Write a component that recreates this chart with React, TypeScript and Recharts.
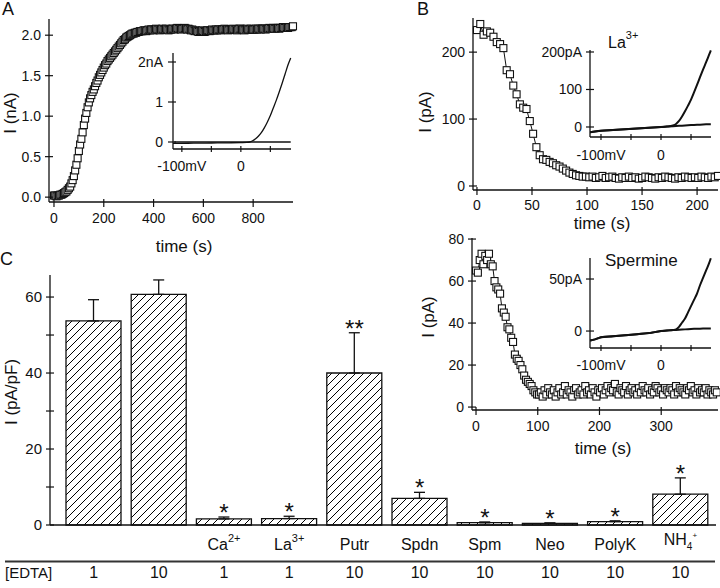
import React from 'react';
import { ComposedChart, Line, Bar, XAxis, YAxis, ErrorBar, LabelList } from 'recharts';

const FONT = '"Liberation Sans", Arial, Helvetica, sans-serif';
const INK = '#111';

// ---------------- Panel A: current vs time (nA), sampled every 5 s ----------------
const aStepS = 5;
const aCurrentNA = [
  0.02, 0.02, 0.01, 0.02, 0.02, 0.03, 0.03, 0.04, 0.05, 0.06, 0.07, 0.09,
  0.11, 0.13, 0.17, 0.21, 0.26, 0.33, 0.40, 0.48, 0.57, 0.65, 0.72, 0.80,
  0.89, 0.97, 1.04, 1.11, 1.17, 1.22, 1.26, 1.30, 1.33, 1.37, 1.41, 1.44,
  1.48, 1.51, 1.54, 1.57, 1.60, 1.63, 1.65, 1.68, 1.70, 1.72, 1.74, 1.76,
  1.78, 1.80, 1.82, 1.84, 1.86, 1.88, 1.90, 1.92, 1.94, 1.95, 1.97, 1.98,
  1.99, 2.00, 2.01, 2.02, 2.02, 2.03, 2.03, 2.04, 2.04, 2.05, 2.05, 2.05,
  2.06, 2.06, 2.05, 2.06, 2.07, 2.06, 2.07, 2.07, 2.06, 2.07, 2.08, 2.07,
  2.07, 2.06, 2.07, 2.08, 2.07, 2.07, 2.08, 2.07, 2.06, 2.07, 2.07, 2.08,
  2.08, 2.07, 2.08, 2.09, 2.08, 2.08, 2.07, 2.08, 2.08, 2.09, 2.08, 2.07,
  2.08, 2.07, 2.06, 2.07, 2.06, 2.05, 2.06, 2.05, 2.04, 2.05, 2.05, 2.06,
  2.05, 2.04, 2.05, 2.06, 2.06, 2.05, 2.06, 2.07, 2.06, 2.06, 2.07, 2.06,
  2.07, 2.07, 2.06, 2.07, 2.07, 2.08, 2.07, 2.07, 2.06, 2.07, 2.07, 2.07,
  2.08, 2.07, 2.07, 2.06, 2.07, 2.08, 2.08, 2.07, 2.07, 2.06, 2.07, 2.08,
  2.07, 2.07, 2.08, 2.07, 2.07, 2.07, 2.08, 2.07, 2.08, 2.08, 2.07, 2.08,
  2.08, 2.08, 2.07, 2.08, 2.08, 2.09, 2.08, 2.08, 2.09, 2.08, 2.08, 2.09,
  2.09, 2.08, 2.09, 2.09, 2.10, 2.09, 2.09, 2.10, 2.09, 2.10, 2.10, 2.10,
  2.11,
];

// Panel A inset: I-V (mV, nA)
const aIvVoltage = [-115, -100, -80, -60, -40, -20, 0, 10, 15, 20, 25, 30, 35, 40, 45, 50, 55, 60, 65, 70, 75, 80, 84.5];
const aIvCurrent = [-0.035, -0.033, -0.03, -0.027, -0.023, -0.02, -0.015, -0.01, 0, 0.03, 0.08, 0.15, 0.24, 0.36, 0.5, 0.66, 0.85, 1.04, 1.25, 1.47, 1.7, 1.93, 2.1];
const aBaseVoltage = [-113, 84.5];
const aBaseCurrent = [0, 0];

// ---------------- Panel B (top): La3+ block, pA, sampled every 3 s ----------------
const bStepS = 3;
const bCurrentPA = [
  233, 242, 226, 231, 229, 223, 215, 212, 206, 173, 167, 150, 137, 122, 117, 115, 97, 78, 58, 46,
  40, 39, 36, 34, 31, 29, 26, 23, 20, 18, 16, 15, 14, 14,
  13, 14, 12, 13, 15, 12, 13, 14, 12, 11, 13, 12, 14, 12, 13, 11, 12, 14, 13, 12,
  11, 13, 12, 14, 13, 12, 11, 13, 12, 14, 13, 12, 13, 12, 14, 13, 12, 14, 13, 15,
];
// inset (mV, pA)
const bIvVoltage = [-118, -110, -100, -80, -60, -40, -20, 0, 10, 20, 25, 30, 35, 40, 45, 50, 55, 60, 65, 70, 75, 80, 83];
const bIvOpen = [-14, -12, -10, -8, -6, -4, -2, 0, 1, 4, 8, 16, 28, 42, 57, 73, 92, 112, 133, 153, 172, 192, 204];
const bIvBlocked = [-14, -12, -10, -8, -6, -4, -2, 0, 1, 2, 2.5, 3, 3.5, 4, 4.5, 5, 5.5, 6, 6, 6.5, 7, 7, 7];

// ---------------- Panel B (bottom): spermine block, pA, sampled every 3 s ----------------
const sStepS = 3;
const sCurrentPA = [
  65, 64, 70, 73, 68, 72, 70, 73, 68, 67, 60, 57, 56, 54, 47, 45, 43, 38, 37, 33,
  31, 25, 23, 22, 20, 18, 15, 13, 12, 11, 10, 8, 7, 6,
  6, 7, 5, 8, 6, 9, 7, 6, 8, 5, 7, 9, 6, 7, 10, 6, 8, 7, 5, 8,
  9, 6, 7, 8, 6, 10, 7, 8, 6, 9, 7, 5, 8, 7, 9, 6, 8, 10, 7, 9,
  8, 11, 7, 6, 9, 8, 7, 10, 6, 8, 9, 7, 8, 6, 9, 7, 10, 8, 7, 9,
  6, 8, 7, 10, 9, 7, 8, 6, 9, 8, 7, 9, 8, 6, 10, 7, 9, 8, 7, 6,
  9, 8, 10, 7, 8, 6, 9, 7, 8, 7, 9, 6, 8, 7, 6, 8, 7,
];
// inset (mV, pA)
const sIvVoltage = [-118, -110, -100, -80, -60, -40, -20, 0, 10, 20, 25, 30, 35, 40, 45, 50, 55, 60, 65, 70, 75, 80, 83];
const sIvOpen = [-9, -8, -6, -5, -4, -3, -2, 0, 0.5, 1, 1.5, 4, 8, 12, 18, 24, 30, 36, 44, 51, 58, 65, 70];
const sIvBlocked = [-9, -8, -6, -5, -4, -3, -2, 0, 0.5, 1, 1, 1.2, 1.4, 1.6, 1.8, 2, 2.1, 2.2, 2.3, 2.4, 2.5, 2.5, 2.5];

// ---------------- Panel C: current density bars ----------------
const cKeys = ['EDTA1', 'EDTA10', 'Ca', 'La', 'Putr', 'Spdn', 'Spm', 'Neo', 'PolyK', 'NH4'];
const cLabelMain = ['', '', 'Ca', 'La', 'Putr', 'Spdn', 'Spm', 'Neo', 'PolyK', 'NH'];
const cLabelSub = ['', '', '', '', '', '', '', '', '', '4'];
const cLabelSup = ['', '', '2+', '3+', '', '', '', '', '', '+'];
const cMean = [53.7, 60.7, 1.6, 1.7, 40.0, 7.0, 0.6, 0.45, 0.9, 8.1];
const cSem = [5.6, 3.8, 0.5, 0.6, 10.6, 1.6, 0.2, 0.1, 0.2, 4.3];
const cSig = ['', '', '*', '*', '**', '*', '*', '*', '*', '*'];
const cEdta = ['1', '10', '1', '1', '10', '10', '10', '10', '10', '10'];

// ---------------- derived tables ----------------
const aData = aCurrentNA.map((v, i) => ({ t: i * aStepS, y: v }));
const bData = bCurrentPA.map((v, i) => ({ t: i * bStepS, y: v }));
const sData = sCurrentPA.map((v, i) => ({ t: i * sStepS, y: v }));
const pairs = (xs: number[], ys: number[]) => xs.map((x, i) => ({ v: x, y: ys[i] }));
const aIv = pairs(aIvVoltage, aIvCurrent);
const aBase = pairs(aBaseVoltage, aBaseCurrent);
const bOpen = pairs(bIvVoltage, bIvOpen);
const bBlk = pairs(bIvVoltage, bIvBlocked);
const sOpen = pairs(sIvVoltage, sIvOpen);
const sBlk = pairs(sIvVoltage, sIvBlocked);
const cData = cKeys.map((k, i) => ({ key: k, mean: cMean[i], err: [0, cSem[i]], top: cMean[i] + cSem[i], sig: cSig[i] }));

// ---------------- helpers ----------------
type Frame = { x0: number; y0: number; x1: number; y1: number; yW: number; xH: number; mt?: number; mr?: number };
function frameBox(f: Frame) {
  const mt = f.mt ?? 10;
  const mr = f.mr ?? 10;
  const left = f.x0 - f.yW;
  const top = f.y0 - mt;
  return {
    style: { position: 'absolute' as const, left, top },
    width: f.x1 + mr - left,
    height: f.y1 + f.xH - top,
    margin: { top: mt, right: mr, bottom: 0, left: 0 },
  };
}

const AXIS = { stroke: INK, strokeWidth: 1.3 };

const yTick = (fmt: (v: number) => string, o: { fs?: number; gap?: number; l?: number; r?: number } = {}) => (p: any) => {
  const { x, y, payload } = p;
  const fs = o.fs ?? 14;
  const gap = o.gap ?? 8;
  return (
    <g>
      <line x1={x - (o.l ?? 4)} x2={x + (o.r ?? 4)} y1={y} y2={y} stroke={INK} strokeWidth={1.2} />
      <text x={x - gap} y={y} dy="0.355em" textAnchor="end" fontSize={fs} fontFamily={FONT} fill={INK}>
        {fmt(payload.value)}
      </text>
    </g>
  );
};

const xTick = (fmt: (v: number) => string, o: { fs?: number; base?: number; u?: number; d?: number } = {}) => (p: any) => {
  const { x, y, payload } = p;
  return (
    <g>
      <line x1={x} x2={x} y1={y - (o.u ?? 3)} y2={y + (o.d ?? 5)} stroke={INK} strokeWidth={1.2} />
      <text x={x} y={y + (o.base ?? 21)} textAnchor="middle" fontSize={o.fs ?? 14} fontFamily={FONT} fill={INK}>
        {fmt(payload.value)}
      </text>
    </g>
  );
};

const squareDot = (size: number) => (p: any) => {
  const { cx, cy, index } = p;
  if (cx == null || cy == null || isNaN(cx) || isNaN(cy)) return <g key={`s${index}`} />;
  const h = size / 2;
  return <rect key={`s${index}`} x={cx - h} y={cy - h} width={size} height={size} fill="#fff" stroke={INK} strokeWidth={1.1} />;
};

const mvFmt = (v: number) => (v === -100 ? '-100mV' : v === 0 ? '0' : '');

// ---------------- frames ----------------
const A_MAIN: Frame = { x0: 49, y0: 19, x1: 293, y1: 202, yW: 49, xH: 60, mt: 10, mr: 20 };
const A_INSET: Frame = { x0: 173, y0: 53, x1: 291, y1: 149, yW: 45, xH: 30, mt: 5, mr: 5 };
const B_MAIN: Frame = { x0: 473, y0: 18, x1: 718, y1: 190, yW: 63, xH: 45, mt: 10, mr: 2 };
const B_INSET: Frame = { x0: 590, y0: 50, x1: 711, y1: 137, yW: 55, xH: 30, mt: 5, mr: 5 };
const S_MAIN: Frame = { x0: 472, y0: 238, x1: 718, y1: 410, yW: 62, xH: 48, mt: 8, mr: 2 };
const S_INSET: Frame = { x0: 590, y0: 258, x1: 711, y1: 348, yW: 55, xH: 30, mt: 5, mr: 5 };
const C_MAIN: Frame = { x0: 50, y0: 275, x1: 716, y1: 525, yW: 50, xH: 63, mt: 10, mr: 4 };

function PanelA() {
  const b = frameBox(A_MAIN);
  return (
    <div style={b.style}>
      <ComposedChart width={b.width} height={b.height} margin={b.margin} data={aData}>
        <XAxis type="number" dataKey="t" domain={[-20, 960]} ticks={[0, 200, 400, 600, 800]} interval={0}
          tickSize={0} tickMargin={0} tickLine={false} axisLine={AXIS} height={A_MAIN.xH} tick={xTick(String)} />
        <YAxis type="number" domain={[-0.06, 2.2]} ticks={[0, 0.5, 1, 1.5, 2]} interval={0}
          tickSize={0} tickMargin={0} tickLine={false} axisLine={AXIS} width={A_MAIN.yW} tick={yTick((v) => v.toFixed(1))} />
        <Line dataKey="y" stroke="none" dot={squareDot(7)} isAnimationActive={false} />
      </ComposedChart>
    </div>
  );
}

function InsetA() {
  const b = frameBox(A_INSET);
  return (
    <div style={b.style}>
      <ComposedChart width={b.width} height={b.height} margin={b.margin}>
        <XAxis type="number" dataKey="v" domain={[-115, 85]} ticks={[-100, -50, 0, 50]} interval={0}
          tickSize={0} tickMargin={0} tickLine={false} axisLine={AXIS} height={A_INSET.xH}
          tick={xTick(mvFmt, { base: 22, u: 3, d: 3 })} />
        <YAxis type="number" domain={[-0.175, 2.225]} ticks={[0, 1, 2]} interval={0}
          tickSize={0} tickMargin={0} tickLine={false} axisLine={AXIS} width={A_INSET.yW}
          tick={yTick((v) => (v === 2 ? '2nA' : String(v)), { gap: 10, l: 5, r: 3 })} />
        <Line data={aBase} dataKey="y" stroke={INK} strokeWidth={1.3} dot={false} isAnimationActive={false} />
        <Line data={aIv} dataKey="y" stroke={INK} strokeWidth={1.3} dot={false} isAnimationActive={false} type="monotone" />
      </ComposedChart>
    </div>
  );
}

function PanelB() {
  const b = frameBox(B_MAIN);
  return (
    <div style={b.style}>
      <ComposedChart width={b.width} height={b.height} margin={b.margin} data={bData}>
        <XAxis type="number" dataKey="t" domain={[-3.6, 219]} ticks={[0, 50, 100, 150, 200]} interval={0}
          tickSize={0} tickMargin={0} tickLine={false} axisLine={AXIS} height={B_MAIN.xH} tick={xTick(String, { base: 20 })} />
        <YAxis type="number" domain={[-6, 251]} ticks={[0, 100, 200]} interval={0}
          tickSize={0} tickMargin={0} tickLine={false} axisLine={AXIS} width={B_MAIN.yW} tick={yTick(String)} />
        <Line dataKey="y" stroke={INK} strokeWidth={1} dot={squareDot(7)} isAnimationActive={false} />
      </ComposedChart>
    </div>
  );
}

function InsetB() {
  const b = frameBox(B_INSET);
  return (
    <div style={b.style}>
      <ComposedChart width={b.width} height={b.height} margin={b.margin}>
        <XAxis type="number" dataKey="v" domain={[-118.3, 83.3]} ticks={[-100, -50, 0, 50]} interval={0}
          tickSize={0} tickMargin={0} tickLine={false} axisLine={AXIS} height={B_INSET.xH}
          tick={xTick(mvFmt, { base: 23, u: 3, d: 3 })} />
        <YAxis type="number" domain={[-26.7, 205.3]} ticks={[0, 100, 200]} interval={0}
          tickSize={0} tickMargin={0} tickLine={false} axisLine={AXIS} width={B_INSET.yW}
          tick={yTick((v) => (v === 200 ? '200pA' : String(v)), { gap: 8 })} />
        <Line data={bBlk} dataKey="y" stroke={INK} strokeWidth={2} dot={false} isAnimationActive={false} />
        <Line data={bOpen} dataKey="y" stroke={INK} strokeWidth={2} dot={false} isAnimationActive={false} type="monotone" />
      </ComposedChart>
    </div>
  );
}

function PanelS() {
  const b = frameBox(S_MAIN);
  return (
    <div style={b.style}>
      <ComposedChart width={b.width} height={b.height} margin={b.margin} data={sData}>
        <XAxis type="number" dataKey="t" domain={[-6.5, 392]} ticks={[0, 100, 200, 300]} interval={0}
          tickSize={0} tickMargin={0} tickLine={false} axisLine={AXIS} height={S_MAIN.xH} tick={xTick(String, { base: 21 })} />
        <YAxis type="number" domain={[-1.4, 80.5]} ticks={[0, 20, 40, 60, 80]} interval={0}
          tickSize={0} tickMargin={0} tickLine={false} axisLine={AXIS} width={S_MAIN.yW} tick={yTick(String)} />
        <Line dataKey="y" stroke={INK} strokeWidth={1} dot={squareDot(7)} isAnimationActive={false} />
      </ComposedChart>
    </div>
  );
}

function InsetS() {
  const b = frameBox(S_INSET);
  return (
    <div style={b.style}>
      <ComposedChart width={b.width} height={b.height} margin={b.margin}>
        <XAxis type="number" dataKey="v" domain={[-118.3, 83.3]} ticks={[-100, -50, 0, 50]} interval={0}
          tickSize={0} tickMargin={0} tickLine={false} axisLine={AXIS} height={S_INSET.xH}
          tick={xTick(mvFmt, { base: 22, u: 3, d: 3 })} />
        <YAxis type="number" domain={[-16.3, 70.2]} ticks={[0, 50]} interval={0}
          tickSize={0} tickMargin={0} tickLine={false} axisLine={AXIS} width={S_INSET.yW}
          tick={yTick((v) => (v === 50 ? '50pA' : String(v)), { gap: 8 })} />
        <Line data={sBlk} dataKey="y" stroke={INK} strokeWidth={2} dot={false} isAnimationActive={false} />
        <Line data={sOpen} dataKey="y" stroke={INK} strokeWidth={2} dot={false} isAnimationActive={false} type="monotone" />
      </ComposedChart>
    </div>
  );
}

const cTick = (p: any) => {
  const { x, y, index } = p;
  const i = typeof index === 'number' ? index : cKeys.indexOf(p.payload?.value);
  const main = cLabelMain[i];
  const sub = cLabelSub[i];
  const sup = cLabelSup[i];
  return (
    <g>
      {main ? (
        <text x={x} y={y + (sub ? 20 : 25)} textAnchor="middle" fontSize={16} fontFamily={FONT} fill={INK}>
          {main}
          {sub ? <tspan dy={5} fontSize={10}>{sub}</tspan> : null}
          {sup ? <tspan dy={sub ? -12 : -8} fontSize={sub ? 8 : 11}>{sup}</tspan> : null}
        </text>
      ) : null}
      <text x={x} y={y + 53} textAnchor="middle" fontSize={16} fontFamily={FONT} fill={INK}>
        {cEdta[i]}
      </text>
    </g>
  );
};

const starLabel = (p: any) => {
  const { x, y, value } = p;
  if (!value) return null;
  return (
    <text x={x} y={y + 4} textAnchor="middle" fontSize={24} fontFamily={FONT} fill={INK}>
      {value}
    </text>
  );
};

function PanelC() {
  const b = frameBox(C_MAIN);
  return (
    <div style={b.style}>
      <ComposedChart width={b.width} height={b.height} margin={b.margin} data={cData}>
        <XAxis dataKey="key" type="category" padding={{ left: 11, right: 3 }} interval={0}
          tickSize={0} tickMargin={0} tickLine={false} axisLine={AXIS} height={C_MAIN.xH} tick={cTick} />
        <YAxis type="number" domain={[0, 65.8]} ticks={[0, 10, 20, 30, 40, 50, 60]} interval={0}
          tickSize={0} tickMargin={0} tickLine={false} axisLine={AXIS} width={C_MAIN.yW}
          tick={yTick((v) => (v % 20 === 0 ? String(v) : ''), { fs: 15 })} />
        <Bar dataKey="mean" fill="url(#hatch)" stroke={INK} strokeWidth={1.3} barSize={55} isAnimationActive={false}>
          <ErrorBar dataKey="err" width={5.5} stroke={INK} strokeWidth={1.3} direction="y" />
        </Bar>
        <Line dataKey="top" stroke="none" dot={false} activeDot={false} isAnimationActive={false} legendType="none">
          <LabelList dataKey="sig" content={starLabel} />
        </Line>
      </ComposedChart>
    </div>
  );
}

const T = { fontFamily: FONT, fill: INK } as const;

export default function App() {
  return (
    <div style={{ position: 'absolute', left: 0, top: 0, width: 720, height: 588, background: '#fff', fontFamily: FONT, overflow: 'hidden' }}>
      <svg width={0} height={0} style={{ position: 'absolute' }}>
        <defs>
          <pattern id="hatch" patternUnits="userSpaceOnUse" width={8} height={8}>
            <rect width={8} height={8} fill="#fff" />
            <path d="M-2,2 L2,-2 M0,8 L8,0 M6,10 L10,6" stroke="#000" strokeWidth={1} />
          </pattern>
        </defs>
      </svg>
      <PanelA />
      <InsetA />
      <PanelB />
      <InsetB />
      <PanelS />
      <InsetS />
      <PanelC />
      <svg width={720} height={588} style={{ position: 'absolute', left: 0, top: 0, pointerEvents: 'none' }}>
        <text x={2} y={15} fontSize={18} {...T}>A</text>
        <text x={417} y={15} fontSize={18} {...T}>B</text>
        <text x={0} y={265} fontSize={18} {...T}>C</text>
        {/* axis titles */}
        <text x={184} y={246} textAnchor="middle" dominantBaseline="central" fontSize={17} {...T}>time (s)</text>
        <text x={10} y={113} transform="rotate(-90 10 113)" textAnchor="middle" dominantBaseline="central" fontSize={17} {...T}>I (nA)</text>
        <text x={602} y={223} textAnchor="middle" dominantBaseline="central" fontSize={17} {...T}>time (s)</text>
        <text x={425} y={112} transform="rotate(-90 425 112)" textAnchor="middle" dominantBaseline="central" fontSize={17} {...T}>I (pA)</text>
        <text x={603} y={448} textAnchor="middle" dominantBaseline="central" fontSize={17} {...T}>time (s)</text>
        <text x={428} y={317} transform="rotate(-90 428 317)" textAnchor="middle" dominantBaseline="central" fontSize={17} {...T}>I (pA)</text>
        <text x={11} y={392} transform="rotate(-90 11 392)" textAnchor="middle" dominantBaseline="central" fontSize={17} {...T}>I (pA/pF)</text>
        {/* inset captions */}
        <text x={608} y={48} fontSize={16} {...T}>
          La<tspan dy={-9} fontSize={11}>3+</tspan>
        </text>
        <text x={605} y={266} fontSize={17} {...T}>Spermine</text>
        <text x={5} y={578} fontSize={15} {...T}>[EDTA]</text>
        <line x1={5} x2={715} y1={561.5} y2={561.5} stroke="#333" strokeWidth={2} />
      </svg>
    </div>
  );
}
